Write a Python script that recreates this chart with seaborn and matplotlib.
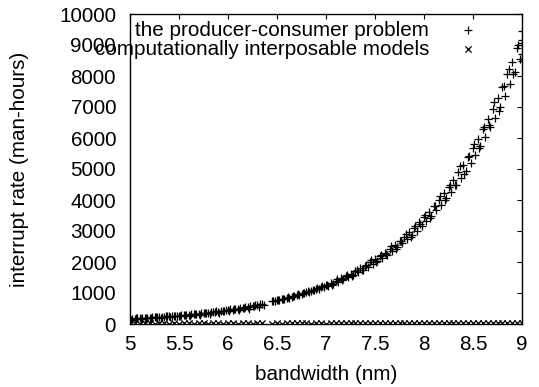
import matplotlib
matplotlib.use("Agg")
import matplotlib.pyplot as plt
import seaborn as sns

# ── series 1: "the producer-consumer problem" (+) ───────────────────────────
X_PC = [
    5.000, 5.025, 5.050, 5.075, 5.100, 5.125, 5.150, 5.175, 5.200, 5.225,
    5.250, 5.275, 5.300, 5.325, 5.350, 5.375, 5.400, 5.425, 5.450, 5.475,
    5.500, 5.525, 5.550, 5.575, 5.600, 5.625, 5.650, 5.675, 5.700, 5.725,
    5.750, 5.775, 5.800, 5.825, 5.850, 5.875, 5.900, 5.925, 5.950, 5.975,
    6.000, 6.025, 6.050, 6.075, 6.100, 6.125, 6.150, 6.175, 6.200, 6.225,
    6.250, 6.275, 6.300, 6.325, 6.350, 6.450, 6.475,
    6.500, 6.525, 6.550, 6.575, 6.600, 6.625, 6.650, 6.675, 6.700, 6.725,
    6.750, 6.775, 6.800, 6.825, 6.850, 6.875, 6.900, 6.925, 6.950, 6.975,
    7.000, 7.025, 7.050, 7.075, 7.100, 7.125, 7.150, 7.175, 7.200, 7.225,
    7.250, 7.275, 7.300, 7.325, 7.350, 7.375, 7.400, 7.425, 7.450, 7.475,
    7.500, 7.525, 7.550, 7.575, 7.600, 7.625, 7.650, 7.675, 7.700, 7.725,
    7.750, 7.775, 7.800, 7.825, 7.850, 7.875, 7.900, 7.925, 7.950, 7.975,
    8.000, 8.025, 8.050, 8.075, 8.100, 8.125, 8.150, 8.175, 8.200, 8.225,
    8.250, 8.275, 8.300, 8.325, 8.350, 8.375, 8.400, 8.425, 8.450, 8.475,
    8.500, 8.525, 8.550, 8.575, 8.600, 8.625, 8.650, 8.675, 8.700, 8.725,
    8.750, 8.775, 8.800, 8.825, 8.850, 8.875, 8.900, 8.925, 8.950, 8.975,
    9.000,
    # second sweep, offset in x
    5.0125, 5.0625, 5.1125, 5.1625, 5.2125, 5.2625, 5.3125, 5.3625, 5.4125, 5.4625,
    5.5125, 5.5625, 5.6125, 5.6625, 5.7125, 5.7625, 5.8125, 5.8625, 5.9125, 5.9625,
    6.0125, 6.0625, 6.1125, 6.1625, 6.2125, 6.2625, 6.3125, 6.3625, 6.4625, 6.5125,
    6.5625, 6.6125, 6.6625, 6.7125, 6.7625, 6.8125, 6.8625, 6.9125, 6.9625,
    7.0125, 7.0625, 7.1125, 7.1625, 7.2125, 7.2625, 7.3125, 7.3625, 7.4125, 7.4625,
    7.5125, 7.5625, 7.6125, 7.6625, 7.7125, 7.7625, 7.8125, 7.8625, 7.9125, 7.9625,
    8.0125, 8.0625, 8.1125, 8.1625, 8.2125, 8.2625, 8.3125, 8.3625, 8.4125, 8.4625,
    8.5125, 8.5625, 8.6125, 8.6625, 8.7125, 8.7625, 8.8125, 8.8625, 8.9125, 8.9625,
    9.000, 9.000, 9.000, 9.000,
]
Y_PC = [
    160, 174, 171, 183, 180, 192, 189, 201, 198, 212,
    210, 224, 220, 235, 231, 247, 244, 259, 256, 272,
    268, 287, 283, 301, 297, 316, 312, 333, 328, 350,
    345, 368, 363, 386, 382, 406, 401, 427, 422, 449,
    444, 472, 466, 496, 490, 522, 516, 549, 543, 577,
    571, 607, 600, 638, 632, 728, 740,
    762, 771, 800, 812, 840, 852, 880, 896, 925, 942,
    970, 985, 1020, 1035, 1070, 1090, 1125, 1140, 1180, 1195,
    1245, 1230, 1320, 1300, 1395, 1370, 1470, 1440, 1545, 1510,
    1625, 1590, 1705, 1670, 1795, 1750, 1885, 1840, 1985, 1930,
    2085, 2030, 2195, 2130, 2300, 2240, 2425, 2350, 2550, 2470,
    2680, 2600, 2820, 2730, 2960, 2870, 3110, 3010, 3280, 3160,
    3440, 3330, 3620, 3490, 3810, 3670, 4000, 3850, 4210, 4050,
    4420, 4250, 4650, 4470, 4890, 4700, 5140, 4940, 5400, 5190,
    5680, 5460, 5970, 5740, 6280, 6030, 6600, 6340, 6940, 6660,
    7290, 7000, 7660, 7360, 8050, 7740, 8460, 8130, 8890, 8540,
    9050,
    140, 185, 168, 205, 186, 222, 203, 245, 222, 268,
    245, 292, 270, 320, 297, 352, 326, 388, 358, 425,
    405, 470, 450, 515, 498, 568, 548, 625, 755, 790,
    820, 875, 905, 960, 1005, 1060, 1105, 1170, 1220,
    1255, 1270, 1445, 1430, 1565, 1535, 1745, 1730, 1890, 2050,
    1990, 2220, 2245, 2525, 2405, 2685, 2905, 2820, 3150, 3215,
    3515, 3410, 3810, 4125, 4005, 4470, 4475, 5085, 4840, 5410,
    5795, 5685, 6345, 6410, 7150, 6870, 7675, 8225, 8065, 9005,
    9450, 9150, 8700, 8480,
]

# ── series 2: "computationally interposable models" (x) ─────────────────────
X_CI = [
    5.00, 5.05, 5.10, 5.15, 5.20, 5.25, 5.30, 5.35, 5.40, 5.45,
    5.50, 5.55, 5.60, 5.65, 5.70, 5.75, 5.80, 5.85, 5.90, 5.95,
    6.00, 6.05, 6.10, 6.15, 6.20, 6.25, 6.30, 6.35, 6.45, 6.50,
    6.55, 6.60, 6.65, 6.70, 6.75, 6.80, 6.85, 6.90, 6.95, 7.00,
    7.05, 7.10, 7.15, 7.20, 7.25, 7.30, 7.35, 7.40, 7.45, 7.50,
    7.55, 7.60, 7.65, 7.70, 7.75, 7.80, 7.85, 7.90, 7.95, 8.00,
    8.05, 8.10, 8.15, 8.20, 8.25, 8.30, 8.35, 8.40, 8.45, 8.50,
    8.55, 8.60, 8.65, 8.70, 8.75, 8.80, 8.85, 8.90, 8.95, 9.00,
]
Y_CI = [
    13, 25, 12, 36, 24, 13, 37, 25, 14, 36,
    13, 25, 38, 14, 26, 35, 13, 37, 26, 14,
    25, 38, 16, 24, 37, 15, 39, 26, 14, 38,
    16, 25, 39, 17, 26, 38, 15, 40, 27, 16,
    39, 18, 26, 40, 17, 29, 38, 21, 27, 39,
    20, 28, 42, 19, 31, 40, 18, 42, 31, 19,
    43, 20, 32, 41, 24, 30, 43, 22, 31, 45,
    22, 34, 43, 26, 32, 45, 24, 47, 33, 26,
]

X_TICKS = [5, 5.5, 6, 6.5, 7, 7.5, 8, 8.5, 9]
X_TICK_LABELS = ["5", "5.5", "6", "6.5", "7", "7.5", "8", "8.5", "9"]
Y_TICKS = [0, 1000, 2000, 3000, 4000, 5000, 6000, 7000, 8000, 9000, 10000]

sns.set_style("white")
plt.rcParams["font.family"] = ["Liberation Sans", "DejaVu Sans"]
plt.rcParams["text.color"] = "black"
plt.rcParams["axes.labelcolor"] = "black"
plt.rcParams["xtick.color"] = "black"
plt.rcParams["ytick.color"] = "black"
FS = 14.9

fig = plt.figure(figsize=(5.39, 3.87), dpi=100)
ax = fig.add_axes([130 / 539, 1 - 324 / 387, 392 / 539, 310 / 387])

sns.scatterplot(x=X_PC, y=Y_PC, marker="+", color="black", s=28, linewidth=0.9,
                label="the producer-consumer problem", ax=ax)
sns.scatterplot(x=X_CI, y=Y_CI, marker="x", color="black", s=20, linewidth=0.9,
                label="computationally interposable models", ax=ax)

ax.set_xlim(5, 9)
ax.set_ylim(0, 10000)
ax.set_xticks(X_TICKS)
ax.set_xticklabels(X_TICK_LABELS)
ax.set_yticks(Y_TICKS)
ax.tick_params(direction="in", top=True, right=True, length=3.6, width=0.8,
               labelsize=FS, color="black", labelcolor="black")
ax.tick_params(axis="y", pad=10)
ax.tick_params(axis="x", pad=8)
for sp in ax.spines.values():
    sp.set_visible(True)
    sp.set_color("black")
    sp.set_linewidth(1.0)

ax.set_xlabel("bandwidth (nm)", fontsize=FS, labelpad=7.5)
ax.set_ylabel("interrupt rate (man-hours)", fontsize=FS, labelpad=22)

leg = ax.legend(loc="upper right", bbox_to_anchor=(0.921, 0.978), frameon=False,
                markerfirst=False, fontsize=FS, borderaxespad=0, borderpad=0,
                handlelength=2.2, handletextpad=0.8, labelspacing=0.0)
leg._legend_box.align = "right"
for t in leg.get_texts():
    t.set_color("black")

plt.savefig("out.png", dpi=100)
